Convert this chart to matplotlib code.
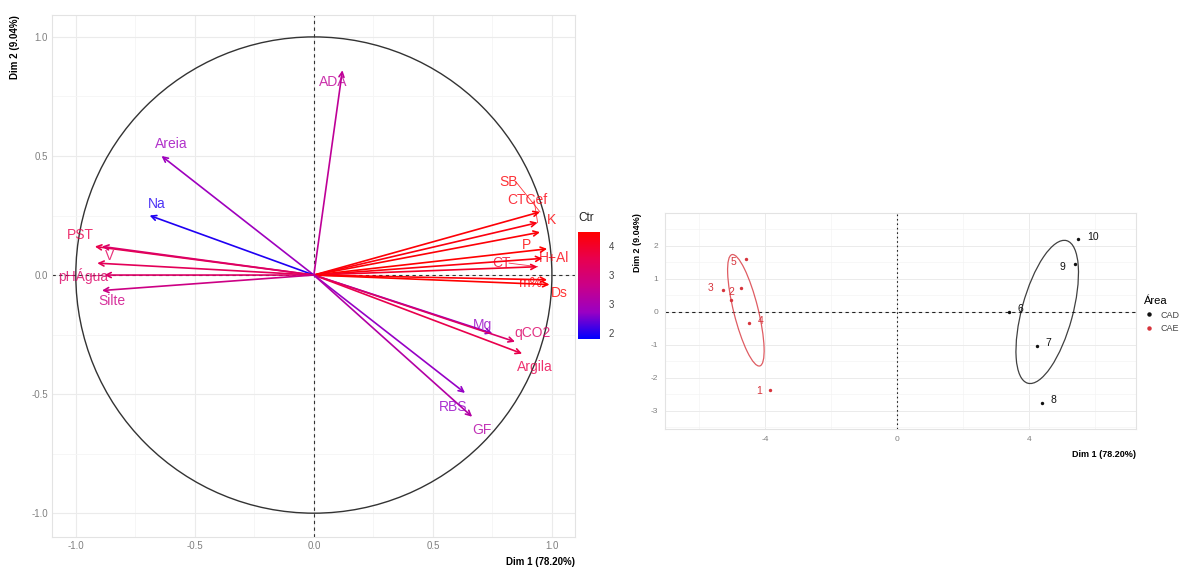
import numpy as np
import matplotlib
matplotlib.use("Agg")
import matplotlib.pyplot as plt
from matplotlib.colors import LinearSegmentedColormap, Normalize
from matplotlib.patches import Circle, Ellipse
from matplotlib.transforms import Bbox
from matplotlib.lines import Line2D
from matplotlib.ticker import MultipleLocator

plt.rcParams['font.family'] = ['Liberation Sans', 'DejaVu Sans']
plt.rcParams['axes.unicode_minus'] = False

# ---------------- data: variables (correlation circle) ----------------
var_names = ["ADA", "Areia", "Na", "PST", "", "V", "pHÁgua", "Silte",
             "SB", "CTCef", "K", "P", "H+Al", "CT", "m%", "Ds",
             "Mg", "qCO2", "Argila", "RBS", "GF"]
var_dim1 = [0.12, -0.64, -0.69, -0.92, -0.89, -0.91, -0.88, -0.89,
            0.95, 0.94, 0.95, 0.98, 0.96, 0.94, 0.98, 0.99,
            0.75, 0.845, 0.875, 0.635, 0.665]
var_dim2 = [0.86, 0.50, 0.25, 0.12, 0.12, 0.05, 0.00, -0.065,
            0.265, 0.22, 0.18, 0.11, 0.07, 0.035, -0.02, -0.04,
            -0.245, -0.28, -0.33, -0.495, -0.595]
var_ctr = [3.2, 2.9, 2.5, 3.8, 3.6, 3.7, 3.6, 3.35,
           4.2, 4.15, 4.2, 4.24, 4.15, 4.0, 4.2, 4.24,
           2.85, 3.6, 3.8, 2.85, 3.1]
# label placement (repelled text positions)
lab_x = [0.08, -0.60, -0.66, -0.98, 0, -0.86, -0.97, -0.85,
         0.82, 0.895, 1.0, 0.895, 1.01, 0.79, 0.91, 1.03,
         0.71, 0.92, 0.93, 0.585, 0.705]
lab_y = [0.81, 0.55, 0.30, 0.17, 0, 0.08, -0.005, -0.11,
         0.39, 0.315, 0.23, 0.126, 0.07, 0.05, -0.034, -0.076,
         -0.21, -0.245, -0.385, -0.555, -0.65]
ctr_ticks = [2.5, 3.0, 3.5, 4.0]

# ---------------- data: individuals ----------------
ind_labels = ["1", "2", "3", "", "4", "5", "6", "7", "8", "9", "10"]
ind_dim1 = [-3.85, -5.03, -5.27, -4.73, -4.48, -4.58, 3.39, 4.24, 4.39, 5.39, 5.48]
ind_dim2 = [-2.36, 0.36, 0.67, 0.73, -0.33, 1.60, 0.00, -1.03, -2.76, 1.45, 2.20]
ind_group = ["CAE"] * 6 + ["CAD"] * 5
groups = ["CAD", "CAE"]
# ellipse per group: center x, center y, width, height, angle
ell_cx = [4.55, -4.58]
ell_cy = [0.0, 0.05]
ell_w = [4.48, 3.48]
ell_h = [1.54, 0.74]
ell_ang = [74.8, 104.0]
# label offsets (points)
ind_off = [(-8, -1), (0, 6), (-9, 1), (0, 0), (8, 1), (-9, -2),
           (8, 2), (8, 2), (8, 2), (-9, -2), (11, 2)]

group_colors = {"CAD": "#111111", "CAE": "#D7343C"}

fig = plt.figure(figsize=(11.87, 5.67), dpi=100)
W, H = 1187, 567

def px_axes(l, r, t, b):
    return fig.add_axes([l / W, (H - b) / H, (r - l) / W, (b - t) / H])

# ================= left panel =================
ax = px_axes(52, 575, 15, 537)
ax.set_xlim(-1.10, 1.097)
ax.set_ylim(-1.10, 1.092)
ax.set_aspect('auto')
for s in ax.spines.values():
    s.set_color('#E3E3E3'); s.set_linewidth(0.8)
ax.xaxis.set_major_locator(MultipleLocator(0.5))
ax.yaxis.set_major_locator(MultipleLocator(0.5))
ax.xaxis.set_minor_locator(MultipleLocator(0.25))
ax.yaxis.set_minor_locator(MultipleLocator(0.25))
ax.grid(which='major', color='#EBEBEB', lw=0.8)
ax.grid(which='minor', color='#F5F5F5', lw=0.6)
ax.set_axisbelow(True)
ax.tick_params(which='both', length=0, labelsize=7, labelcolor='#808080', pad=3)
ax.xaxis.set_major_formatter(plt.FuncFormatter(lambda v, p: f"{v:.1f}"))
ax.yaxis.set_major_formatter(plt.FuncFormatter(lambda v, p: f"{v:.1f}"))
ax.set_xlabel("Dim 1 (78.20%)", fontsize=7, fontweight='bold', loc='right', labelpad=4)
ax.set_ylabel("Dim 2 (9.04%)", fontsize=7, fontweight='bold', loc='top', labelpad=8)

ax.add_patch(Circle((0, 0), 1.0, fill=False, color='#333333', lw=1.0, zorder=2))
ax.axhline(0, color='#333333', ls=(0, (3, 3)), lw=0.8, zorder=2)
ax.axvline(0, color='#333333', ls=(0, (3, 3)), lw=0.8, zorder=2)

# blue -> red gradient interpolated in Lab space (as ggplot does)
cmap = LinearSegmentedColormap.from_list(
    "ctr", ["#0000FF", "#9A00C3", "#CA0088", "#E8004F", "#FF0000"])
norm = Normalize(vmin=2.4, vmax=4.24)

for name, x, y, c, lx, ly in zip(var_names, var_dim1, var_dim2, var_ctr, lab_x, lab_y):
    col = cmap(norm(c))
    ax.annotate("", xy=(x, y), xytext=(0, 0),
                arrowprops=dict(arrowstyle='->', color=col, lw=1.2,
                                shrinkA=0, shrinkB=0, mutation_scale=9),
                zorder=3)
    if name:
        d = np.hypot(lx - x, ly - y)
        if d > 0.09:
            ax.plot([lx + 0.03 * np.sign(x - lx), x], [ly, y], color=col, lw=0.6, alpha=0.8, zorder=3)
        ax.text(lx, ly, name, color=col, fontsize=10, ha='center', va='center',
                alpha=0.8, zorder=4)

# colorbar
cax = px_axes(578, 600, 232, 339)
sm = plt.cm.ScalarMappable(norm=norm, cmap=cmap)
cb = fig.colorbar(sm, cax=cax, ticks=ctr_ticks)
cb.outline.set_visible(False)
cax.tick_params(length=3, color='white', labelsize=7, labelcolor='#444444', pad=3)
cax.set_yticklabels([f"{t:.1f}" for t in ctr_ticks])
clip = Bbox.from_extents(0, 0, 614, H)
for t in cax.get_yticklabels():
    t.set_clip_on(True)
    t.set_clip_box(clip)
fig.text(578 / W, (H - 218) / H, "Ctr", fontsize=8.5, ha='left', va='center', color='#222222')

# ================= right panel =================
ax2 = px_axes(665, 1136, 213, 429)
ax2.set_xlim(-7.03, 7.24)
ax2.set_ylim(-3.55, 3.0)
for s in ax2.spines.values():
    s.set_color('#E3E3E3'); s.set_linewidth(0.8)
ax2.set_xticks([-4, 0, 4])
ax2.set_yticks([-3, -2, -1, 0, 1, 2])
ax2.xaxis.set_minor_locator(MultipleLocator(2))
ax2.yaxis.set_minor_locator(MultipleLocator(0.5))
ax2.grid(which='major', color='#EBEBEB', lw=0.7)
ax2.grid(which='minor', color='#F4F4F4', lw=0.5)
ax2.set_axisbelow(True)
ax2.tick_params(which='both', length=0, labelsize=6, labelcolor='#808080', pad=5)
ax2.set_xlabel("Dim 1 (78.20%)", fontsize=6.5, fontweight='bold', loc='right', labelpad=5)
ax2.set_ylabel("Dim 2 (9.04%)", fontsize=6.5, fontweight='bold', loc='top', labelpad=6)
ax2.axhline(0, color='#222222', ls=(0, (3, 3)), lw=0.8, zorder=2)
ax2.axvline(0, color='#222222', ls=(0, (1.5, 2.5)), lw=0.8, zorder=2)

for g, cx, cy, w, h, a in zip(groups, ell_cx, ell_cy, ell_w, ell_h, ell_ang):
    ax2.add_patch(Ellipse((cx, cy), w, h, angle=a, fill=False,
                          color=group_colors[g], lw=0.9, alpha=0.8, zorder=3))

for lab, x, y, g, off in zip(ind_labels, ind_dim1, ind_dim2, ind_group, ind_off):
    col = group_colors[g]
    ax2.scatter([x], [y], s=6, color=col, zorder=4, linewidths=0)
    if lab:
        ax2.annotate(lab, (x, y), xytext=off, textcoords='offset points',
                     fontsize=7.5, color=col, ha='center', va='center', zorder=5)

handles = [Line2D([], [], marker='o', ls='', color=group_colors[g], markersize=2.2, label=g)
           for g in groups]
leg = ax2.legend(handles=handles, title="Área", loc='center left',
                 bbox_to_anchor=(1.0, 0.53), frameon=False, fontsize=6.5,
                 title_fontsize=8, handletextpad=0.8, labelspacing=0.5,
                 handlelength=1.0)
leg._legend_box.align = "left"
for t in leg.get_texts():
    t.set_color('#444444')

fig.savefig("out.png", dpi=100, facecolor='white')
